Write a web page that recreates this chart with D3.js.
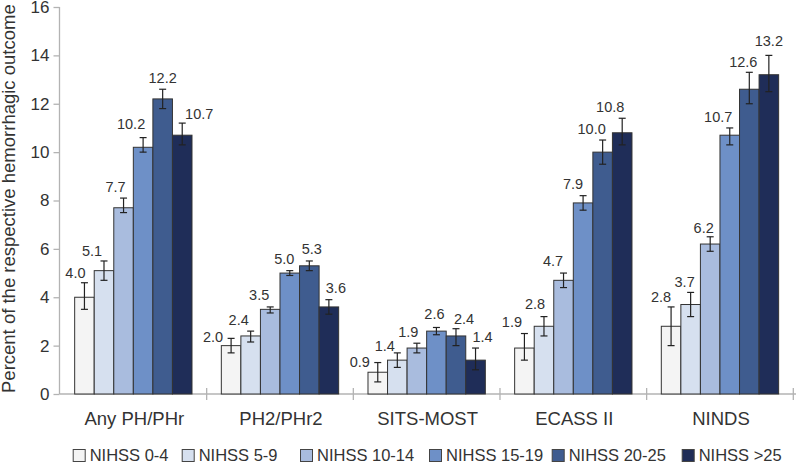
<!DOCTYPE html>
<html><head><meta charset="utf-8">
<script src="https://cdn.jsdelivr.net/npm/d3@7/dist/d3.min.js"></script>
<style>
html,body{margin:0;padding:0;background:#fff;}
svg text{font-family:"Liberation Sans",Arial,Helvetica,sans-serif;fill:#333;}
</style></head>
<body>
<svg id="chart" width="796" height="463"></svg>
<script>
// ---- data ----
const categories = ["Any PH/PHr", "PH2/PHr2", "SITS-MOST", "ECASS II", "NINDS"];
const seriesNames = ["NIHSS 0-4", "NIHSS 5-9", "NIHSS 10-14", "NIHSS 15-19", "NIHSS 20-25", "NIHSS >25"];
const nihss0_4   = [4.0, 2.0, 0.9, 1.9, 2.8];
const nihss5_9   = [5.1, 2.4, 1.4, 2.8, 3.7];
const nihss10_14 = [7.7, 3.5, 1.9, 4.7, 6.2];
const nihss15_19 = [10.2, 5.0, 2.6, 7.9, 10.7];
const nihss20_25 = [12.2, 5.3, 2.4, 10.0, 12.6];
const nihssOver25 = [10.7, 3.6, 1.4, 10.8, 13.2];
// error bar bounds (lower / upper)
const errLow0_4   = [3.5, 1.7, 0.5, 1.4, 2.0];
const errHigh0_4  = [4.6, 2.3, 1.3, 2.5, 3.6];
const errLow5_9   = [4.7, 2.15, 1.1, 2.4, 3.2];
const errHigh5_9  = [5.5, 2.6, 1.7, 3.2, 4.2];
const errLow10_14 = [7.5, 3.35, 1.7, 4.4, 5.9];
const errHigh10_14= [8.1, 3.6, 2.1, 5.0, 6.5];
const errLow15_19 = [10.0, 4.9, 2.45, 7.6, 10.3];
const errHigh15_19= [10.6, 5.1, 2.75, 8.2, 11.0];
const errLow20_25 = [11.8, 5.1, 2.0, 9.5, 12.0];
const errHigh20_25= [12.6, 5.5, 2.7, 10.5, 13.3];
const errLowOver25 = [10.3, 3.3, 1.0, 10.3, 12.5];
const errHighOver25= [11.2, 3.9, 1.9, 11.4, 14.0];
const yTicks = [0, 2, 4, 6, 8, 10, 12, 14, 16];
const yTitle = "Percent of the respective hemorrhagic outcome";

const seriesValues = [nihss0_4, nihss5_9, nihss10_14, nihss15_19, nihss20_25, nihssOver25];
const seriesLow = [errLow0_4, errLow5_9, errLow10_14, errLow15_19, errLow20_25, errLowOver25];
const seriesHigh = [errHigh0_4, errHigh5_9, errHigh10_14, errHigh15_19, errHigh20_25, errHighOver25];

// ---- styling / layout ----
const colors = ["#f4f4f4", "#d6e0ef", "#a9bcde", "#6e90c7", "#3f5c8f", "#1f2d58"];
// hand-placed value label nudges [dx from bar centre, gap above error top] per category, per series
const labelNudge = [
  [[-9,5],[-12,4.5],[-8,6.5],[-12,9],[0,6.5],[17,4]],
  [[-18,-3.5],[-12,6.5],[-11,7],[-5.5,6.5],[2.5,6.5],[7,6.5]],
  [[-18,-4],[-12.5,1.5],[-8.5,6.5],[-2,8.5],[8,4.5],[7,6.5]],
  [[-12.5,6.5],[-9,7.5],[-10.5,7.5],[-10,6.5],[-11,6],[-12,6]],
  [[-10,5],[-6,5],[-6.5,3.5],[-11.5,5.5],[-6,5.5],[0,9]]
];

const svg = d3.select("#chart");
const W = 796, H = 463;
const plotLeft = 60, plotRight = 793.3, yTop = 7, yBottom = 394;

const x0 = d3.scaleBand().domain(categories).range([plotLeft, plotRight]).paddingInner(0).paddingOuter(0);
const x1 = d3.scaleBand().domain(d3.range(seriesNames.length)).range([x0.bandwidth()*0.1, x0.bandwidth()*0.9]).padding(0);
const y = d3.scaleLinear().domain([0, 16]).range([yBottom, yTop]);

const axisColor = "#b3b3b3";

// y axis
const yAxis = svg.append("g").attr("transform", `translate(${plotLeft - 0.5},0)`)
  .call(d3.axisLeft(y).tickValues(yTicks).tickSize(6).tickPadding(4).tickFormat(d3.format("d")));
yAxis.select(".domain").attr("stroke", axisColor).attr("stroke-width", 1.3).attr("d", `M0,${yTop}V${yBottom}`);
yAxis.selectAll(".tick line").attr("stroke", axisColor).attr("stroke-width", 1.3);
yAxis.selectAll(".tick text").style("font-size", "17px").attr("fill", "#333");

// y title
svg.append("text")
  .attr("transform", `translate(15,${yBottom - 1}) rotate(-90)`)
  .attr("text-anchor", "start")
  .style("font-size", "18.5px")
  .text(yTitle);

// x axis
const xAxis = svg.append("g").attr("transform", `translate(0,${yBottom})`);
xAxis.append("line").attr("x1", plotLeft - 0.5).attr("x2", W).attr("y1", 0).attr("y2", 0)
  .attr("stroke", axisColor).attr("stroke-width", 1.3);
const boundaries = categories.map(c => x0(c)).concat([x0(categories[categories.length-1]) + x0.bandwidth()]).slice(1);
xAxis.selectAll(".sep").data(boundaries).enter().append("line")
  .attr("x1", d => d).attr("x2", d => d).attr("y1", -6).attr("y2", 6)
  .attr("stroke", axisColor).attr("stroke-width", 1.3);
xAxis.selectAll(".cat").data(categories).enter().append("text")
  .attr("x", d => x0(d) + x0.bandwidth()/2 + 1)
  .attr("y", 31)
  .attr("text-anchor", "middle")
  .style("font-size", "18.5px")
  .text(d => d);

// bars
const groups = svg.selectAll(".grp").data(categories).enter().append("g")
  .attr("transform", d => `translate(${x0(d)},0)`);

groups.each(function(cat, ci) {
  const g = d3.select(this);
  seriesNames.forEach((s, si) => {
    const v = seriesValues[si][ci];
    const bx = x1(si), bw = x1.bandwidth();
    g.append("rect")
      .attr("x", bx).attr("y", y(v))
      .attr("width", bw).attr("height", y(0) - y(v))
      .attr("fill", colors[si]).attr("stroke", "#333").attr("stroke-width", 1);
    const cx = bx + bw/2;
    const lo = seriesLow[si][ci], hi = seriesHigh[si][ci];
    g.append("line").attr("x1", cx).attr("x2", cx).attr("y1", y(hi)).attr("y2", y(lo))
      .attr("stroke", "#222").attr("stroke-width", 1.2);
    [lo, hi].forEach(e => g.append("line").attr("x1", cx - 3.5).attr("x2", cx + 3.5)
      .attr("y1", y(e)).attr("y2", y(e)).attr("stroke", "#222").attr("stroke-width", 1.2));
    const nd = labelNudge[ci][si];
    g.append("text")
      .attr("x", cx + nd[0]).attr("y", y(hi) - nd[1])
      .attr("text-anchor", "middle")
      .style("font-size", "14.5px")
      .text(d3.format(".1f")(v));
  });
});

// legend
const legendX = [72.7, 181.7, 300, 429, 551.7, 681.7];
const legend = svg.append("g").attr("transform", "translate(0,449)");
seriesNames.forEach((s, si) => {
  legend.append("rect").attr("x", legendX[si] + 0.5).attr("y", 0.5).attr("width", 12).attr("height", 12)
    .attr("fill", colors[si]).attr("stroke", "#444").attr("stroke-width", 1);
  legend.append("text").attr("x", legendX[si] + 17).attr("y", 12)
    .style("font-size", "16.5px").text(s);
});
</script>
</body></html>
